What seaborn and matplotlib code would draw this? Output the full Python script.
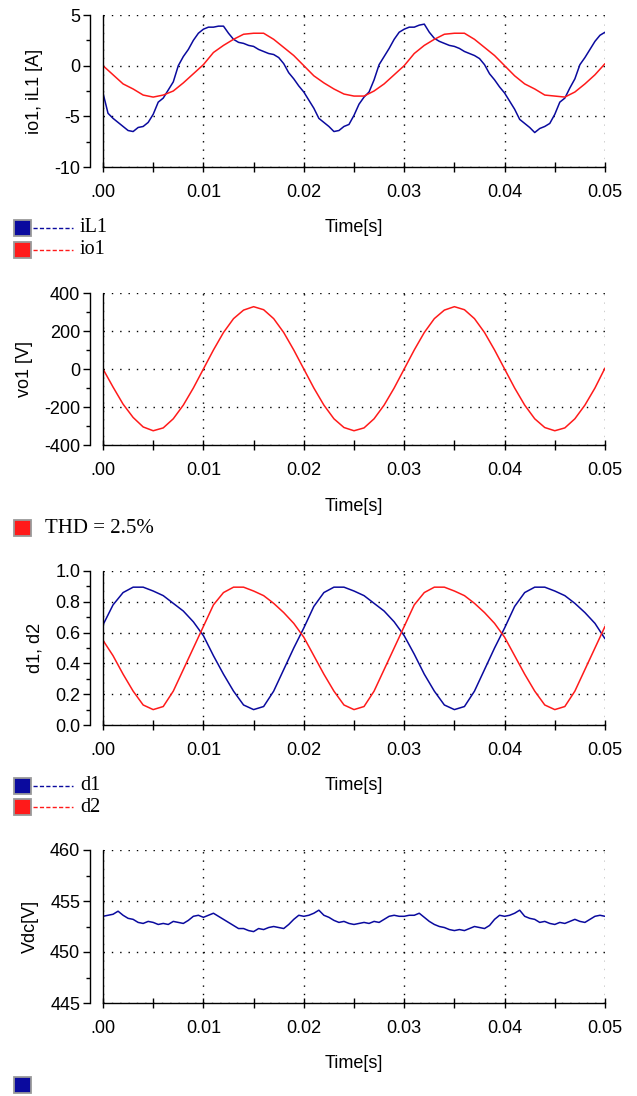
import numpy as np
import pandas as pd
import seaborn as sns
import matplotlib
matplotlib.use("Agg")
import matplotlib.pyplot as plt
from matplotlib.ticker import MultipleLocator, FuncFormatter
from matplotlib.patches import Rectangle
from matplotlib.lines import Line2D

# ---------------- data ----------------
t_fine = np.round(np.arange(0, 0.05001, 0.0005), 5)     # 0.5 ms samples
t_coarse = np.round(np.arange(0, 0.05001, 0.001), 4)    # 1 ms samples

iL1 = [-2.7, -4.7, -5.2, -5.6, -6.0, -6.4, -6.5, -6.1, -6.0, -5.6,
       -4.8, -3.6, -3.2, -2.4, -1.6, 0.0, 0.9, 1.6, 2.5, 3.2,
       3.6, 3.8, 3.8, 3.9, 3.9, 3.2, 2.6, 2.3, 2.2, 2.0,
       1.9, 1.6, 1.4, 1.2, 1.1, 0.8, 0.2, -0.7, -1.3, -2.0,
       -2.6, -3.4, -4.2, -5.2, -5.6, -6.0, -6.5, -6.4, -6.0, -5.8,
       -4.9, -3.8, -3.1, -2.6, -1.4, 0.1, 0.9, 1.7, 2.6, 3.3,
       3.6, 3.8, 3.8, 4.0, 4.1, 3.3, 2.7, 2.4, 2.2, 2.0,
       1.9, 1.7, 1.4, 1.2, 1.0, 0.7, 0.1, -0.8, -1.4, -2.1,
       -2.7, -3.5, -4.3, -5.3, -5.7, -6.1, -6.6, -6.2, -6.0, -5.7,
       -4.8, -3.6, -3.2, -2.2, -1.3, 0.1, 0.8, 1.6, 2.4, 3.0,
       3.3]

io1 = [0.0, -0.9, -1.8, -2.3, -2.9, -3.1, -2.9, -2.5, -1.7, -0.8,
       0.1, 1.3, 2.0, 2.6, 3.1, 3.2, 3.2, 2.6, 1.8, 1.0,
       0.0, -1.0, -1.7, -2.3, -2.8, -3.0, -3.0, -2.5, -1.8, -0.9,
       0.0, 1.2, 2.0, 2.6, 3.1, 3.2, 3.2, 2.6, 1.8, 1.0,
       0.0, -1.0, -1.8, -2.3, -2.9, -3.0, -3.1, -2.6, -1.8, -0.9,
       0.2]

vo1 = [0, -95, -185, -255, -305, -325, -310, -262, -190, -100,
       0, 100, 192, 265, 310, 328, 312, 265, 192, 100,
       0, -100, -190, -262, -308, -325, -310, -262, -190, -100,
       0, 100, 192, 265, 310, 328, 312, 265, 192, 100,
       0, -100, -190, -262, -308, -325, -310, -262, -190, -100,
       5]

d1 = [0.65, 0.78, 0.86, 0.895, 0.895, 0.87, 0.84, 0.79, 0.74, 0.67,
      0.58, 0.45, 0.33, 0.22, 0.13, 0.10, 0.12, 0.22, 0.36, 0.50,
      0.63, 0.77, 0.86, 0.895, 0.895, 0.87, 0.84, 0.79, 0.74, 0.67,
      0.58, 0.46, 0.33, 0.22, 0.13, 0.10, 0.12, 0.22, 0.36, 0.50,
      0.63, 0.77, 0.86, 0.895, 0.895, 0.87, 0.84, 0.79, 0.73, 0.66,
      0.56]

d2 = [0.55, 0.45, 0.33, 0.22, 0.13, 0.10, 0.12, 0.22, 0.36, 0.50,
      0.64, 0.78, 0.86, 0.895, 0.895, 0.87, 0.84, 0.79, 0.73, 0.66,
      0.57, 0.45, 0.33, 0.22, 0.13, 0.10, 0.12, 0.22, 0.36, 0.50,
      0.64, 0.78, 0.86, 0.895, 0.895, 0.87, 0.84, 0.79, 0.73, 0.66,
      0.57, 0.45, 0.33, 0.22, 0.13, 0.10, 0.12, 0.22, 0.36, 0.50,
      0.64]

vdc = [453.5, 453.6, 453.7, 454.0, 453.6, 453.3, 453.2, 452.9, 452.8, 453.0,
       452.9, 452.7, 452.8, 452.7, 453.0, 452.9, 452.8, 453.1, 453.5, 453.6,
       453.4, 453.6, 453.8, 453.5, 453.2, 452.9, 452.6, 452.3, 452.3, 452.1,
       452.0, 452.3, 452.2, 452.4, 452.5, 452.4, 452.3, 452.7, 453.2, 453.6,
       453.5, 453.6, 453.8, 454.1, 453.6, 453.4, 453.1, 452.9, 453.0, 452.8,
       452.7, 452.8, 452.9, 452.8, 453.0, 452.9, 453.2, 453.5, 453.6, 453.5,
       453.5, 453.6, 453.6, 453.8, 453.4, 453.0, 452.7, 452.5, 452.4, 452.2,
       452.1, 452.2, 452.1, 452.3, 452.5, 452.4, 452.3, 452.6, 453.2, 453.6,
       453.5, 453.6, 453.8, 454.1, 453.5, 453.3, 453.2, 452.9, 453.0, 452.8,
       452.7, 452.9, 452.8, 453.0, 453.2, 453.0, 452.9, 453.2, 453.5, 453.6,
       453.5]

# ---------------- styling ----------------
sns.set_theme(style="white")
plt.rcParams['font.family'] = ['Liberation Sans', 'DejaVu Sans']

BLUE = '#0A0A9E'
RED = '#FF1A1A'
W, H = 637, 1096
TICK_FS = 13
fig = plt.figure(figsize=(W / 100, H / 100), dpi=100)
fig.patch.set_facecolor('white')


def px_axes(top, bottom, left=103, right=605):
    return fig.add_axes([left / W, 1 - bottom / H, (right - left) / W, (bottom - top) / H])


def style(ax, ylim, ymaj, ymin, yfmt, ylabel, bottom_px):
    ax.set_facecolor('white')
    ax.set_xlim(0, 0.05)
    ax.set_ylim(*ylim)
    for s in ['top', 'right']:
        ax.spines[s].set_visible(False)
    ax.spines['left'].set_position(('outward', 9.4))
    for s in ['left', 'bottom']:
        ax.spines[s].set_color('black')
        ax.spines[s].set_linewidth(1.0)
    ax.axvline(0, color='black', lw=1.0, clip_on=False, zorder=3)
    ax.xaxis.set_major_locator(MultipleLocator(0.01))
    ax.xaxis.set_minor_locator(MultipleLocator(0.005))
    ax.yaxis.set_major_locator(MultipleLocator(ymaj))
    ax.yaxis.set_minor_locator(MultipleLocator(ymin))
    ax.xaxis.set_major_formatter(FuncFormatter(lambda v, p: '.00' if abs(v) < 1e-9 else f'{v:.2f}'))
    ax.yaxis.set_major_formatter(FuncFormatter(yfmt))
    ax.tick_params(axis='x', which='both', direction='inout', length=7, width=1.0,
                   color='black', bottom=True, labelsize=TICK_FS, labelcolor='black', pad=9)
    ax.tick_params(axis='y', which='major', direction='out', length=5, width=1.0,
                   color='black', left=True, labelsize=TICK_FS, labelcolor='black', pad=2)
    ax.tick_params(axis='y', which='minor', direction='out', length=3, width=1.0,
                   color='black', left=True)
    ax.grid(True, which='major', axis='both', color='black',
            linestyle=(0, (1, 5)), linewidth=1.0)
    ax.set_ylabel(ylabel, fontsize=13, color='black', labelpad=8)
    ax.set_xlabel('')
    fig.text((103 + 605) / 2 / W, 1 - (bottom_px + 61) / H, 'Time[s]',
             ha='center', va='center', fontsize=13, color='black')


def legend_square(y_center, color):
    fig.add_artist(Rectangle((14 / W, 1 - (y_center + 8) / H), 17 / W, 16 / H,
                             transform=fig.transFigure, facecolor=color,
                             edgecolor='#9a9a9a', linewidth=1.3))


def legend_entry(y_center, color, label):
    legend_square(y_center, color)
    fig.add_artist(Line2D([33 / W, 73 / W], [1 - y_center / H] * 2,
                          transform=fig.transFigure, color=color,
                          linestyle=(0, (3, 1.6)), linewidth=1.0))
    fig.text(80 / W, 1 - y_center / H, label, ha='left', va='center',
             fontsize=14.5, family='Liberation Serif', color='black')


# ---------------- panel 1 ----------------
ax1 = px_axes(15, 167)
sns.lineplot(x=t_fine, y=iL1, ax=ax1, color=BLUE, linewidth=1.1, estimator=None)
sns.lineplot(x=t_coarse, y=io1, ax=ax1, color=RED, linewidth=1.1, estimator=None)
style(ax1, (-10, 5), 5, 2.5, lambda v, p: f'{v:.0f}', 'io1, iL1 [A]', 167)
legend_entry(228, BLUE, 'iL1')
legend_entry(250, RED, 'io1')

# ---------------- panel 2 ----------------
ax2 = px_axes(293, 445)
sns.lineplot(x=t_coarse, y=vo1, ax=ax2, color=RED, linewidth=1.1, estimator=None)
style(ax2, (-400, 400), 200, 100, lambda v, p: f'{v:.0f}', 'vo1 [V]', 445)
legend_square(528, RED)
fig.text(45 / W, 1 - 528 / H, 'THD = 2.5%', ha='left', va='center',
         fontsize=15, family='Liberation Serif', color='black')

# ---------------- panel 3 ----------------
ax3 = px_axes(571, 725)
sns.lineplot(x=t_coarse, y=d1, ax=ax3, color=BLUE, linewidth=1.1, estimator=None)
sns.lineplot(x=t_coarse, y=d2, ax=ax3, color=RED, linewidth=1.1, estimator=None)
style(ax3, (0, 1.0), 0.2, 0.1, lambda v, p: f'{v:.1f}', 'd1, d2', 725)
legend_entry(786, BLUE, 'd1')
legend_entry(807, RED, 'd2')

# ---------------- panel 4 ----------------
ax4 = px_axes(850, 1003)
sns.lineplot(x=t_fine, y=vdc, ax=ax4, color=BLUE, linewidth=1.1, estimator=None)
style(ax4, (445, 460), 5, 2.5, lambda v, p: f'{v:.0f}', 'Vdc[V]', 1003)
legend_square(1085, BLUE)

fig.savefig('out.png', dpi=100, facecolor='white')
